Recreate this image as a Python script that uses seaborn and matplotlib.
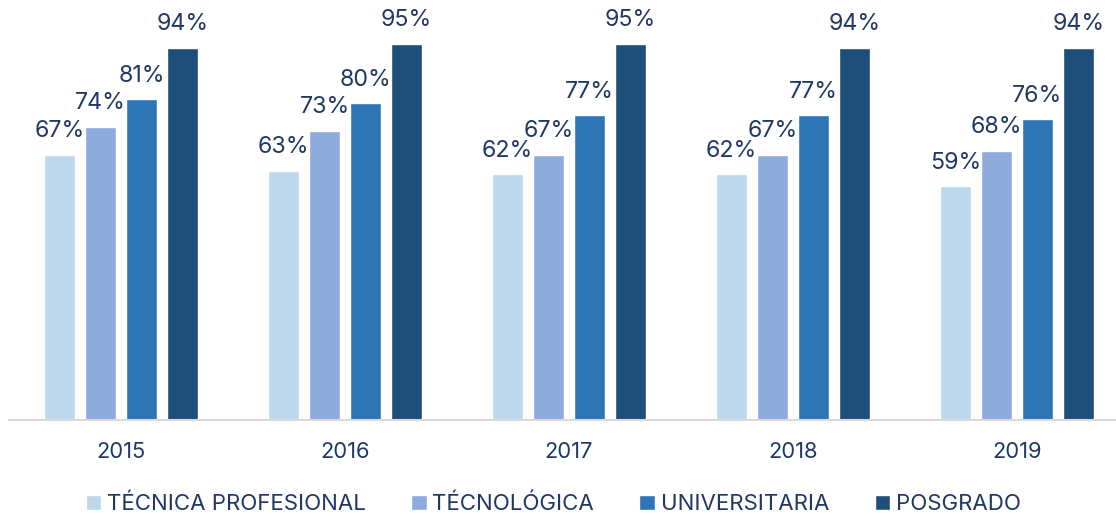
import matplotlib.pyplot as plt
import pandas as pd
import seaborn as sns

YEARS = ["2015", "2016", "2017", "2018", "2019"]
SERIES = ["TÉCNICA PROFESIONAL", "TÉCNOLÓGICA", "UNIVERSITARIA", "POSGRADO"]
TECNICA = [0.67, 0.63, 0.62, 0.62, 0.59]
TECNOLOGICA = [0.74, 0.73, 0.67, 0.67, 0.68]
UNIVERSITARIA = [0.81, 0.80, 0.77, 0.77, 0.76]
POSGRADO = [0.94, 0.95, 0.95, 0.94, 0.94]

COLORS = ["#BDD7EE", "#8FAADC", "#2E75B6", "#1F4E79"]
TEXT_COLOR = "#1F3864"


def build_frame() -> pd.DataFrame:
    rows = []
    for name, values in zip(SERIES, [TECNICA, TECNOLOGICA, UNIVERSITARIA, POSGRADO]):
        for year, v in zip(YEARS, values):
            rows.append({"Año": year, "Nivel": name, "Tasa": v})
    return pd.DataFrame(rows)


def main() -> None:
    sns.set_theme(style="white")
    plt.rcParams["font.family"] = ["Inter", "DejaVu Sans"]

    df = build_frame()
    fig = plt.figure(figsize=(11.16, 5.16), dpi=100)
    ax = fig.add_axes([9 / 1116, 96 / 516, 1107 / 1116, 420 / 516])

    sns.barplot(
        data=df, x="Año", y="Tasa", hue="Nivel", order=YEARS, hue_order=SERIES,
        palette=COLORS, width=0.732, gap=0.22, saturation=1, ax=ax,
    )

    for container in ax.containers:
        ax.bar_label(
            container, labels=[f"{v * 100:.0f}%" for v in container.datavalues],
            padding=9, fontsize=16.7, color=TEXT_COLOR,
        )

    ax.set_xlim(-0.5, -0.5 + 1107 / 224)
    ax.set_ylim(0, 420 / 396)
    ax.set_xlabel("")
    ax.set_ylabel("")
    ax.set_yticks([])
    ax.tick_params(axis="x", length=0, pad=16, labelsize=15.8, labelcolor=TEXT_COLOR)
    for side in ["top", "right", "left"]:
        ax.spines[side].set_visible(False)
    ax.spines["bottom"].set_color("#D9D9D9")
    ax.spines["bottom"].set_linewidth(1.5)

    ax.legend(
        loc="center", bbox_to_anchor=(553 / 1116, 12 / 516), bbox_transform=fig.transFigure,
        ncol=4, frameon=False, fontsize=16, labelcolor=TEXT_COLOR,
        handlelength=0.7, handleheight=0.7, handletextpad=0.25, columnspacing=2.05,
    )

    fig.savefig("out.png", dpi=100)
    plt.close(fig)


if __name__ == "__main__":
    main()
